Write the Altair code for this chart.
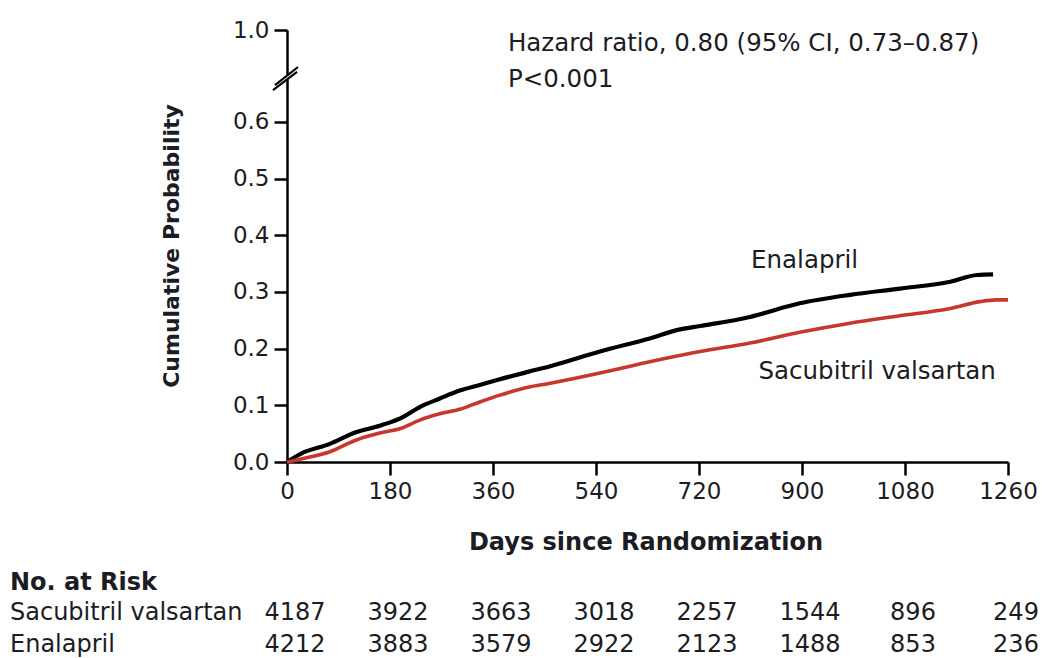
import altair as alt
import pandas as pd

# ---- data ----
enal_days = [0, 23, 75, 119, 162, 198, 232, 267, 302, 337, 372, 421, 460, 547, 634, 687, 722, 809, 896, 984, 1071, 1159, 1206, 1234]
enal_vals = [0, 0.014, 0.032, 0.052, 0.064, 0.077, 0.097, 0.112, 0.126, 0.136, 0.146, 0.159, 0.169, 0.195, 0.218, 0.234, 0.240, 0.256, 0.280, 0.295, 0.306, 0.318, 0.330, 0.331]
sac_days = [0, 23, 75, 119, 162, 198, 232, 267, 302, 337, 372, 421, 460, 547, 634, 722, 809, 896, 984, 1071, 1159, 1211, 1240, 1260]
sac_vals = [0, 0.005, 0.018, 0.038, 0.051, 0.059, 0.074, 0.085, 0.093, 0.106, 0.118, 0.132, 0.139, 0.157, 0.177, 0.195, 0.210, 0.229, 0.245, 0.258, 0.271, 0.283, 0.286, 0.286]

x_ticks = [0, 180, 360, 540, 720, 900, 1080, 1260]
y_ticks = [0.0, 0.1, 0.2, 0.3, 0.4, 0.5, 0.6]
risk_sac = [4187, 3922, 3663, 3018, 2257, 1544, 896, 249]
risk_enal = [4212, 3883, 3579, 2922, 2123, 1488, 853, 236]

W, H = 721, 432
YMAX = 0.7623          # scale position where the broken axis shows "1.0"
FONT = "DejaVu Sans"
TXT = "#1c1c24"
RED = "#c8372d"

curves = pd.DataFrame(
    {"day": enal_days + sac_days,
     "p": enal_vals + sac_vals,
     "arm": ["Enalapril"] * len(enal_days) + ["Sacubitril valsartan"] * len(sac_days)}
)

xs = alt.Scale(domain=[0, 1260], nice=False, zero=False)
ys = alt.Scale(domain=[0, YMAX], nice=False, zero=False)

base = alt.Chart(curves)

enal_line = base.transform_filter(alt.datum.arm == "Enalapril").mark_line(
    strokeWidth=4.2, color="black", interpolate="monotone", clip=False).encode(
    x=alt.X("day:Q", scale=xs,
            axis=alt.Axis(values=x_ticks, title=None, grid=False, format="d", labelFlush=False,
                          labelFontSize=23, labelFont=FONT, labelColor=TXT, labelPadding=5,
                          tickSize=13, tickWidth=2.5, tickColor="black",
                          domainColor="black", domainWidth=2.5)),
    y=alt.Y("p:Q", scale=ys,
            axis=alt.Axis(values=y_ticks + [YMAX], title=None, grid=False, labelFlush=False,
                          labelExpr="datum.value > 0.7 ? '1.0' : format(datum.value, '.1f')",
                          labelFontSize=23, labelFont=FONT, labelColor=TXT, labelPadding=5,
                          tickSize=13, tickWidth=2.5, tickColor="black",
                          domainColor="black", domainWidth=2.5)),
)
sac_line = base.transform_filter(alt.datum.arm == "Sacubitril valsartan").mark_line(
    strokeWidth=3.6, color=RED, interpolate="monotone", clip=False).encode(
    x=alt.X("day:Q", scale=xs), y=alt.Y("p:Q", scale=ys))

# axis titles as text
titles = pd.DataFrame({"t": ["Days since Randomization"]})
x_title = alt.Chart(titles).mark_text(
    align="center", baseline="alphabetic", font=FONT, fontSize=24, fontWeight="bold", color=TXT
).encode(x=alt.value(359), y=alt.value(520), text="t:N")
y_title = alt.Chart(pd.DataFrame({"t": ["Cumulative Probability"]})).mark_text(
    align="center", baseline="middle", font=FONT, fontSize=22, fontWeight="bold", color=TXT, angle=270
).encode(x=alt.value(-115), y=alt.value(216), text="t:N")

# axis break marks (two slashes across the y axis)
brk = pd.DataFrame({"x": [-24.5, -21.0], "x2": [17.5, 19.2], "y": [0.6564, 0.6652], "y2": [0.6882, 0.6970]})
gap = pd.DataFrame({"x": [0], "y": [0.6755], "y2": [0.6815]})
gap_mark = alt.Chart(gap).mark_rule(color="white", strokeWidth=5).encode(
    x=alt.X("x:Q", scale=xs), y=alt.Y("y:Q", scale=ys), y2="y2:Q")
brk_mark = alt.Chart(brk).mark_rule(color="black", strokeWidth=2.2).encode(
    x=alt.X("x:Q", scale=xs), x2="x2:Q", y=alt.Y("y:Q", scale=ys), y2="y2:Q")

# annotations
ann = pd.DataFrame({
    "x": [386, 386, 811, 824],
    "y": [0.7258, 0.6612, 0.3418, 0.146],
    "t": ["Hazard ratio, 0.80 (95% CI, 0.73\u20130.87)", "P<0.001", "Enalapril", "Sacubitril valsartan"],
})
ann_mark = alt.Chart(ann).mark_text(align="left", baseline="alphabetic", font=FONT,
                                    fontSize=24.5, color=TXT).encode(
    x=alt.X("x:Q", scale=xs), y=alt.Y("y:Q", scale=ys), text="t:N")

# number at risk table
risk = pd.DataFrame({
    "day": x_ticks * 2,
    "n": risk_sac + risk_enal,
    "row": ["s"] * 8 + ["e"] * 8,
})
risk_s = alt.Chart(risk[risk.row == "s"]).mark_text(
    align="center", baseline="alphabetic", font=FONT, fontSize=24, color=TXT, dx=8
).encode(x=alt.X("day:Q", scale=xs), y=alt.value(590), text="n:Q")
risk_e = alt.Chart(risk[risk.row == "e"]).mark_text(
    align="center", baseline="alphabetic", font=FONT, fontSize=24, color=TXT, dx=8
).encode(x=alt.X("day:Q", scale=xs), y=alt.value(622), text="n:Q")

lab = pd.DataFrame({"t": ["Sacubitril valsartan", "Enalapril"], "yy": [590, 622]})
row_labels = alt.Chart(lab).mark_text(align="left", baseline="alphabetic", font=FONT,
                                      fontSize=24, color=TXT).encode(
    x=alt.value(-277), y=alt.Y("yy:Q", scale=None), text="t:N")
hdr = alt.Chart(pd.DataFrame({"t": ["No. at Risk"]})).mark_text(
    align="left", baseline="alphabetic", font=FONT, fontSize=24, fontWeight="bold", color=TXT
).encode(x=alt.value(-277), y=alt.value(560), text="t:N")

chart = alt.layer(enal_line, sac_line, gap_mark, brk_mark, x_title, y_title, ann_mark,
                  risk_s, risk_e, row_labels, hdr).properties(
    width=W, height=H,
    autosize=alt.AutoSizeParams(type="none"),
    padding={"left": 287, "top": 30, "right": 34, "bottom": 196},
    background="white",
).configure_view(stroke=None)

chart.save("out.html", embed_options={"renderer": "svg", "actions": False})
